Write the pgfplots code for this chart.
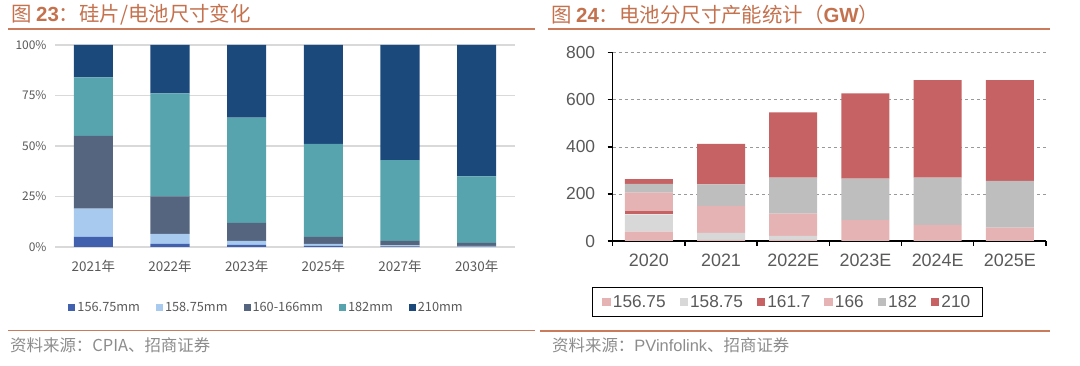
\documentclass[border=0pt]{standalone}
\usepackage{pgfplots}
\pgfplotsset{compat=1.18}
\usepackage{fontspec}
\setmainfont{Liberation Sans}
\newfontfamily\cjk{Noto Sans CJK SC}
\definecolor{ttl}{HTML}{C4714E}
\definecolor{rulec}{HTML}{C97B5C}
\definecolor{srcc}{HTML}{8C8C8C}
\definecolor{labc}{HTML}{595959}
\definecolor{gridc}{HTML}{D9D9D9}
\definecolor{lA}{HTML}{4161AF}
\definecolor{lB}{HTML}{A7CAEE}
\definecolor{lC}{HTML}{55657F}
\definecolor{lD}{HTML}{58A4AE}
\definecolor{lE}{HTML}{1B497C}
\definecolor{rPink}{HTML}{E6B3B4}
\definecolor{rLg}{HTML}{D8D8D8}
\definecolor{rRed}{HTML}{C66263}
\definecolor{rGr}{HTML}{BEBEBE}
\pgfplotsset{
  lbar/.style={fill=#1, draw=none, legend image code/.code={\fill[fill=#1] (0bp,-3.5bp) rectangle (7bp,3.5bp);}},
  rbar/.style={fill=#1, draw=none, legend image code/.code={\fill[fill=#1] (0bp,-4bp) rectangle (8.5bp,4bp);}},
}
\begin{document}
\begin{tikzpicture}
\path (0bp,0bp) rectangle (1080bp,366bp);
% titles and rules
\node[anchor=west, text=ttl, inner sep=0] at (11bp,351bp) {\cjk\fontsize{20.5}{22}\selectfont 图 {\fontspec{Liberation Sans}\bfseries 23}：硅片/电池尺寸变化};
\node[anchor=west, text=ttl, inner sep=0] at (551bp,351bp) {\cjk\fontsize{20.5}{22}\selectfont 图 {\fontspec{Liberation Sans}\bfseries 24}：电池分尺寸产能统计（{\fontspec{Liberation Sans}\bfseries GW}）};
\draw[rulec, line width=1.6bp] (8bp,337bp) -- (535bp,337bp);
\draw[rulec, line width=1.6bp] (548bp,337bp) -- (1050bp,337bp);
\draw[rulec, line width=1.6bp] (8bp,35.5bp) -- (535bp,35.5bp);
\draw[rulec, line width=1.6bp] (540bp,35bp) -- (1050bp,35bp);
\node[anchor=west, text=srcc, inner sep=0] at (10bp,21bp) {\cjk\fontsize{16.5}{18}\selectfont 资料来源：CPIA、招商证券};
\node[anchor=west, text=srcc, inner sep=0] at (552bp,21bp) {\cjk\fontsize{16.5}{18}\selectfont 资料来源：{\fontspec{Liberation Sans}PVinfolink}、招商证券};

% left chart
\begin{axis}[
  at={(55bp,119bp)}, anchor=south west, scale only axis,
  width=460bp, height=202bp,
  ybar stacked, bar width=39bp,
  xmin=-0.5, xmax=5.5, ymin=0, ymax=100,
  xtick={0,...,5}, xticklabels={2021年,2022年,2023年,2025年,2027年,2030年},
  ytick={0,25,50,75,100}, yticklabels={0\%,25\%,50\%,75\%,100\%},
  axis line style={draw=none}, tick style={draw=none},
  ymajorgrids, grid style={draw=gridc, line width=1.2bp},
  xticklabel style={font=\cjk\fontsize{13.5}{14}\selectfont, text=labc, yshift=-10bp},
  yticklabel style={font=\cjk\fontsize{12}{13}\selectfont, text=labc, xshift=-5bp},
  legend columns=5,
  legend style={at={(0.46,-0.30)}, anchor=center, draw=none, fill=none,
    font=\cjk\fontsize{12.8}{14}\selectfont, text=labc,
    /tikz/every even column/.append style={column sep=14bp}},
  legend cell align=left,
]
\addplot[lbar=lA] coordinates {(0,5) (1,1.5) (2,1) (3,0.5) (4,0.3) (5,0.2)};
\addplot[lbar=lB] coordinates {(0,14) (1,5) (2,2) (3,1) (4,0.5) (5,0.3)};
\addplot[lbar=lC] coordinates {(0,36) (1,18.5) (2,9) (3,3.5) (4,2.2) (5,1.5)};
\addplot[lbar=lD] coordinates {(0,29) (1,51) (2,52) (3,46) (4,40) (5,33)};
\addplot[lbar=lE] coordinates {(0,16) (1,24) (2,36) (3,49) (4,57) (5,65)};
\legend{156.75mm,158.75mm,160-166mm,182mm,210mm}
\end{axis}

% right chart
\begin{axis}[
  at={(612.7bp,125bp)}, anchor=south west, scale only axis,
  width=433.3bp, height=188.3bp,
  ybar stacked, bar width=48bp,
  xmin=-0.5, xmax=5.5, ymin=0, ymax=800,
  xtick={0,...,5}, xticklabels={2020,2021,2022E,2023E,2024E,2025E},
  minor xtick={-0.5,0.5,...,5.5},
  ytick={0,200,400,600,800},
  axis x line*=bottom, axis y line*=left,
  axis line style={black, line width=1.3bp, -},
  tick align=outside,
  major x tick style={draw=none},
  minor x tick style={black, line width=1.3bp},
  minor tick length=5bp,
  major tick length=5bp,
  ytick style={black, line width=1.3bp},
  ymajorgrids, grid style={dashed, draw=gray!80, line width=0.6bp},
  xticklabel style={font=\fontsize{18}{20}\selectfont, text=labc, yshift=-4bp},
  yticklabel style={font=\fontsize{17.5}{19}\selectfont, text=labc, xshift=-9bp},
  /pgf/number format/assume math mode=true,
  legend columns=6,
  legend style={at={(0.403,-0.324)}, anchor=center, draw=black, line width=1.3bp, fill=white,
    font=\fontsize{17.3}{19}\selectfont, text=labc, inner xsep=10bp, inner ysep=5.5bp,
    /tikz/every even column/.append style={column sep=12bp}},
  legend cell align=left,
]
\addplot[rbar=rPink] coordinates {(0,40) (1,5) (2,5) (3,0) (4,0) (5,0)};
\addplot[rbar=rLg] coordinates {(0,73) (1,30) (2,17) (3,0) (4,0) (5,0)};
\addplot[rbar=rRed] coordinates {(0,14) (1,0) (2,0) (3,0) (4,0) (5,0)};
\addplot[rbar=rPink] coordinates {(0,78) (1,114) (2,94) (3,89) (4,69) (5,57)};
\addplot[rbar=rGr] coordinates {(0,38) (1,92) (2,153) (3,176) (4,200) (5,198)};
\addplot[rbar=rRed] coordinates {(0,20) (1,172) (2,278) (3,362) (4,415) (5,429)};
\legend{156.75,158.75,161.7,166,182,210}
\end{axis}
\end{tikzpicture}
\end{document}
